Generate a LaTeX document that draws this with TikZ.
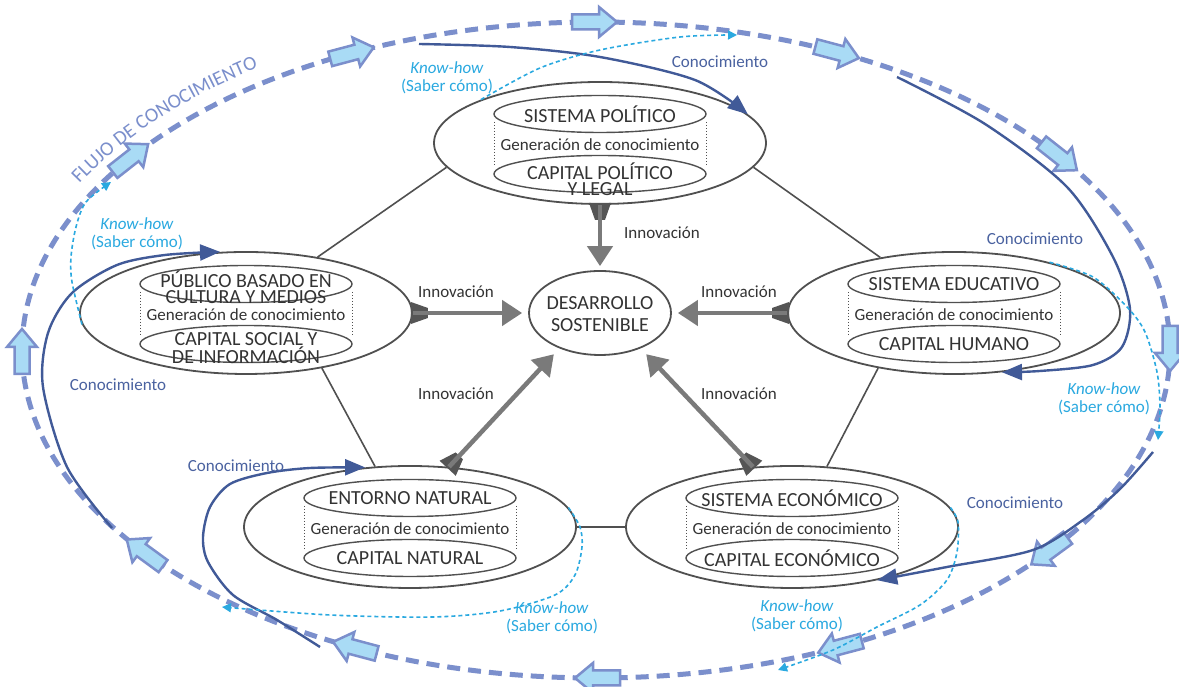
\documentclass[tikz,border=0pt]{standalone}
\usepackage{fontspec}
\setmainfont{Carlito}
\usetikzlibrary{arrows.meta,calc,shapes.geometric,decorations.text}
\definecolor{nodegray}{HTML}{505050}
\definecolor{txtgray}{HTML}{333333}
\definecolor{innovgray}{HTML}{7A7A7A}
\definecolor{basegray}{HTML}{555555}
\definecolor{dashblue}{HTML}{7B8FCC}
\definecolor{fillblue}{HTML}{A9DBF5}
\definecolor{kline}{HTML}{415A98}
\definecolor{klabel}{HTML}{4A62A0}
\definecolor{khblue}{HTML}{2AA9E0}
\newcommand\flujofont{\fontsize{20}{20}\selectfont}
\tikzset{
  outerell/.style={ellipse, draw=nodegray, line width=1.8pt, fill=white, minimum width=332pt, minimum height=122pt, inner sep=0pt},
  innerell/.style={ellipse, draw=nodegray, line width=1.4pt, minimum width=212pt, minimum height=37pt, inner sep=0pt},
  desell/.style={ellipse, draw=nodegray, line width=1.8pt, fill=white, minimum width=142pt, minimum height=84pt, inner sep=0pt},
  destext/.style={font=\fontsize{20}{22}\selectfont, text=txtgray, align=center, inner sep=0pt},
  sidedot/.style={draw=nodegray, line width=0.7pt, dash pattern=on 1.5pt off 1.5pt},
  captext/.style={font=\fontsize{20}{16}\selectfont, text=txtgray, align=center, inner sep=0pt},
  gentext/.style={font=\fontsize{17}{17}\selectfont, text=txtgray, inner sep=0pt},
  link/.style={draw=nodegray, line width=1.6pt},
  innovline/.style={draw=innovgray, line width=4.5pt, -{Triangle[length=20pt,width=25pt]}},
  innovbase/.style={fill=basegray},
  innovlabel/.style={font=\fontsize{17}{17}\selectfont, text=txtgray, inner sep=0pt},
  flowline/.style={draw=dashblue, line width=5pt, dash pattern=on 13pt off 8pt},
  blockarrow/.style={draw=dashblue, fill=fillblue, line width=2.5pt, line join=miter},
  kcurve/.style={draw=kline, line width=2.4pt, -{Triangle[length=20pt,width=16pt]}},
  klab/.style={font=\fontsize{17}{17}\selectfont, text=klabel, inner sep=0pt},
  khcurve/.style={draw=khblue, line width=1.6pt, dash pattern=on 4pt off 3pt, -{Triangle[length=9pt,width=9pt]}},
  khlab/.style={font=\fontsize{17}{18}\selectfont, text=khblue, align=center, inner sep=0pt},
  barrow/.pic={\draw[blockarrow] (-24,-7.5) -- (3,-7.5) -- (3,-15) -- (21,0) -- (3,15) -- (3,7.5) -- (-24,7.5) -- cycle;},
}
\newcommand\sysnode[7]{%
  \node[outerell] (#1) at (#2,#3) {};
  \node[innerell] (#1-a) at (#2,{#3+29}) {};
  \node[innerell] (#1-b) at (#2,{#3-31}) {};
  \draw[sidedot] ({#2-106},{#3+21}) -- ({#2-106},{#3-24});
  \draw[sidedot] ({#2+106},{#3+21}) -- ({#2+106},{#3-24});
  \node[captext] (#1-t) at (#2,{#3+29+(#5)}) {#4};
  \node[gentext] (#1-g) at (#2,{#3-2}) {Generación de conocimiento};
  \node[captext] (#1-c) at (#2,{#3-31+(#7)}) {#6};
}
\newcommand\innovarrow[3]{%
  \coordinate (ia) at ($(#1)!-2pt!(#2)$);
  \coordinate (ib) at ($(#1)!15pt!(#2)$);
  \fill[innovbase] ($(ia)!11pt!90:(#2)$) -- ($(ia)!11pt!-90:(#2)$) -- ($(ib)!5pt!-90:(#2)$) -- ($(ib)!5pt!90:(#2)$) -- cycle;
  \draw[innovline, shorten >=#3] (#1) -- (#2);
}
\begin{document}
\begin{tikzpicture}[x=1pt,y=1pt]
\useasboundingbox (0,0) rectangle (1179,687);
\fill[white] (0,0) rectangle (1179,687);
% flow of knowledge
\draw[flowline] (596,337) ellipse[x radius=574, y radius=328];
\foreach \t/\a in {90/0,65/-14.9,36/-38.2,0/-90,-38/-143.8,-65/-165.1,-90/180,-115/165.1,-142/143.8,180/90,144/38.2,115/14.9}
  \pic[rotate=\a] at ({596+574*cos(\t)},{337+328*sin(\t)}) {barrow};
\path[decorate, decoration={text along path, text={|\flujofont|FLUJO DE CONOCIMIENTO}, text color=dashblue, text align=center}]
  ({596+590*cos(159)},{337+344*sin(159)}) arc[start angle=159, end angle=119, x radius=590, y radius=344];
% nodes
\sysnode{pol}{600}{544}{SISTEMA POLÍTICO}{0}{CAPITAL POLÍTICO\\Y LEGAL}{-5}
\sysnode{pub}{246}{374}{PÚBLICO BASADO EN\\CULTURA Y MEDIOS}{-3}{CAPITAL SOCIAL Y\\DE INFORMACIÓN}{-4}
\sysnode{edu}{954}{374}{SISTEMA EDUCATIVO}{0}{CAPITAL HUMANO}{0}
\sysnode{nat}{410}{160}{ENTORNO NATURAL}{0}{CAPITAL NATURAL}{0}
\sysnode{eco}{792}{160}{SISTEMA ECONÓMICO}{0}{CAPITAL ECONÓMICO}{0}
\node[desell] (des) at (600,374) {};
\node[destext] (des-t) at (600,373) {DESARROLLO\\SOSTENIBLE};
% links
\draw[link] (pol.189.8) -- (pub.38);
\draw[link] (pol.351.6) -- (edu.143.6);
\draw[link] (pub.324) -- (nat.120);
\draw[link] (edu.216) -- (eco.60);
\draw[link] (nat.east) -- (eco.west);
% innovation
\innovarrow{pol.south}{des.north}{4pt}
\innovarrow{pub.east}{des.west}{6pt}
\innovarrow{edu.west}{des.east}{6pt}
\innovarrow{nat.57}{des.221}{8pt}
\innovarrow{eco.123}{des.319}{8pt}
\node[innovlabel] (in1) at (662,454) {Innovación};
\node[innovlabel] (in2) at (456,395) {Innovación};
\node[innovlabel] (in3) at (739,395) {Innovación};
\node[innovlabel] (in4) at (456,293) {Innovación};
\node[innovlabel] (in5) at (739,293) {Innovación};
% conocimiento curves
\coordinate (k1s) at (419,643);
\coordinate (k2s) at (897,610);
\coordinate (k3s) at (1153,235);
\coordinate (k4s) at (320,40);
\coordinate (k5s) at (112,159);
\draw[kcurve] plot[smooth] coordinates {(k1s) (510,640) (600,630) (695,607) (pol.11)};
\draw[kcurve] plot[smooth] coordinates {(k2s) (985,563) (1067,500) (1113,430) (1130,378) (1122,340) (1093,322) (1040,316) (edu.309)};
\draw[kcurve] plot[smooth] coordinates {(k3s) (1120,198) (1083,167) (1033,137) (947,120) (eco.328)};
\draw[kcurve] plot[smooth] coordinates {(k4s) (277,67) (233,92) (208,125) (203,150) (210,180) (230,203) (267,214) (310,219) (nat.127)};
\draw[kcurve] plot[smooth] coordinates {(k5s) (67,220) (43,300) (48,354) (72,394) (117,422) (165,432) (pub.113)};
\node[klab] (k1l) at (720,625) {Conocimiento};
\node[klab] (k2l) at (1035,448) {Conocimiento};
\node[klab] (k3l) at (1015,184) {Conocimiento};
\node[klab] (k4l) at (236,221) {Conocimiento};
\node[klab] (k5l) at (118,302) {Conocimiento};
% know-how curves
\coordinate (h1e) at (737,652);
\coordinate (h2e) at (111,505);
\coordinate (h3e) at (1158,247);
\coordinate (h4e) at (222,80);
\coordinate (h5e) at (778,17);
\draw[khcurve] plot[smooth] coordinates {(pol.160) (540,619) (600,637) (680,650) (h1e)};
\draw[khcurve] plot[smooth] coordinates {(pub.184) (72,405) (71,430) (76,460) (86,485) (h2e)};
\draw[khcurve] plot[smooth] coordinates {(edu.28) (1093,410) (1127,380) (1145,355) (1157,315) (1160,280) (h3e)};
\draw[khcurve] plot[smooth] coordinates {(nat.7) (580,160) (582,140) (575,112) (555,92) (500,76) (433,70) (330,72) (h4e)};
\draw[khcurve] plot[smooth] coordinates {(eco.7) (958,165) (957,135) (947,107) (920,82) (877,60) (833,37) (h5e)};
\node[khlab] (h1l) at (447,609) {\textit{Know-how}\\(Saber cómo)};
\node[khlab] (h2l) at (137,453) {\textit{Know-how}\\(Saber cómo)};
\node[khlab] (h3l) at (1104,288) {\textit{Know-how}\\(Saber cómo)};
\node[khlab] (h4l) at (552,69) {\textit{Know-how}\\(Saber cómo)};
\node[khlab] (h5l) at (797,71) {\textit{Know-how}\\(Saber cómo)};
\end{tikzpicture}
\end{document}
